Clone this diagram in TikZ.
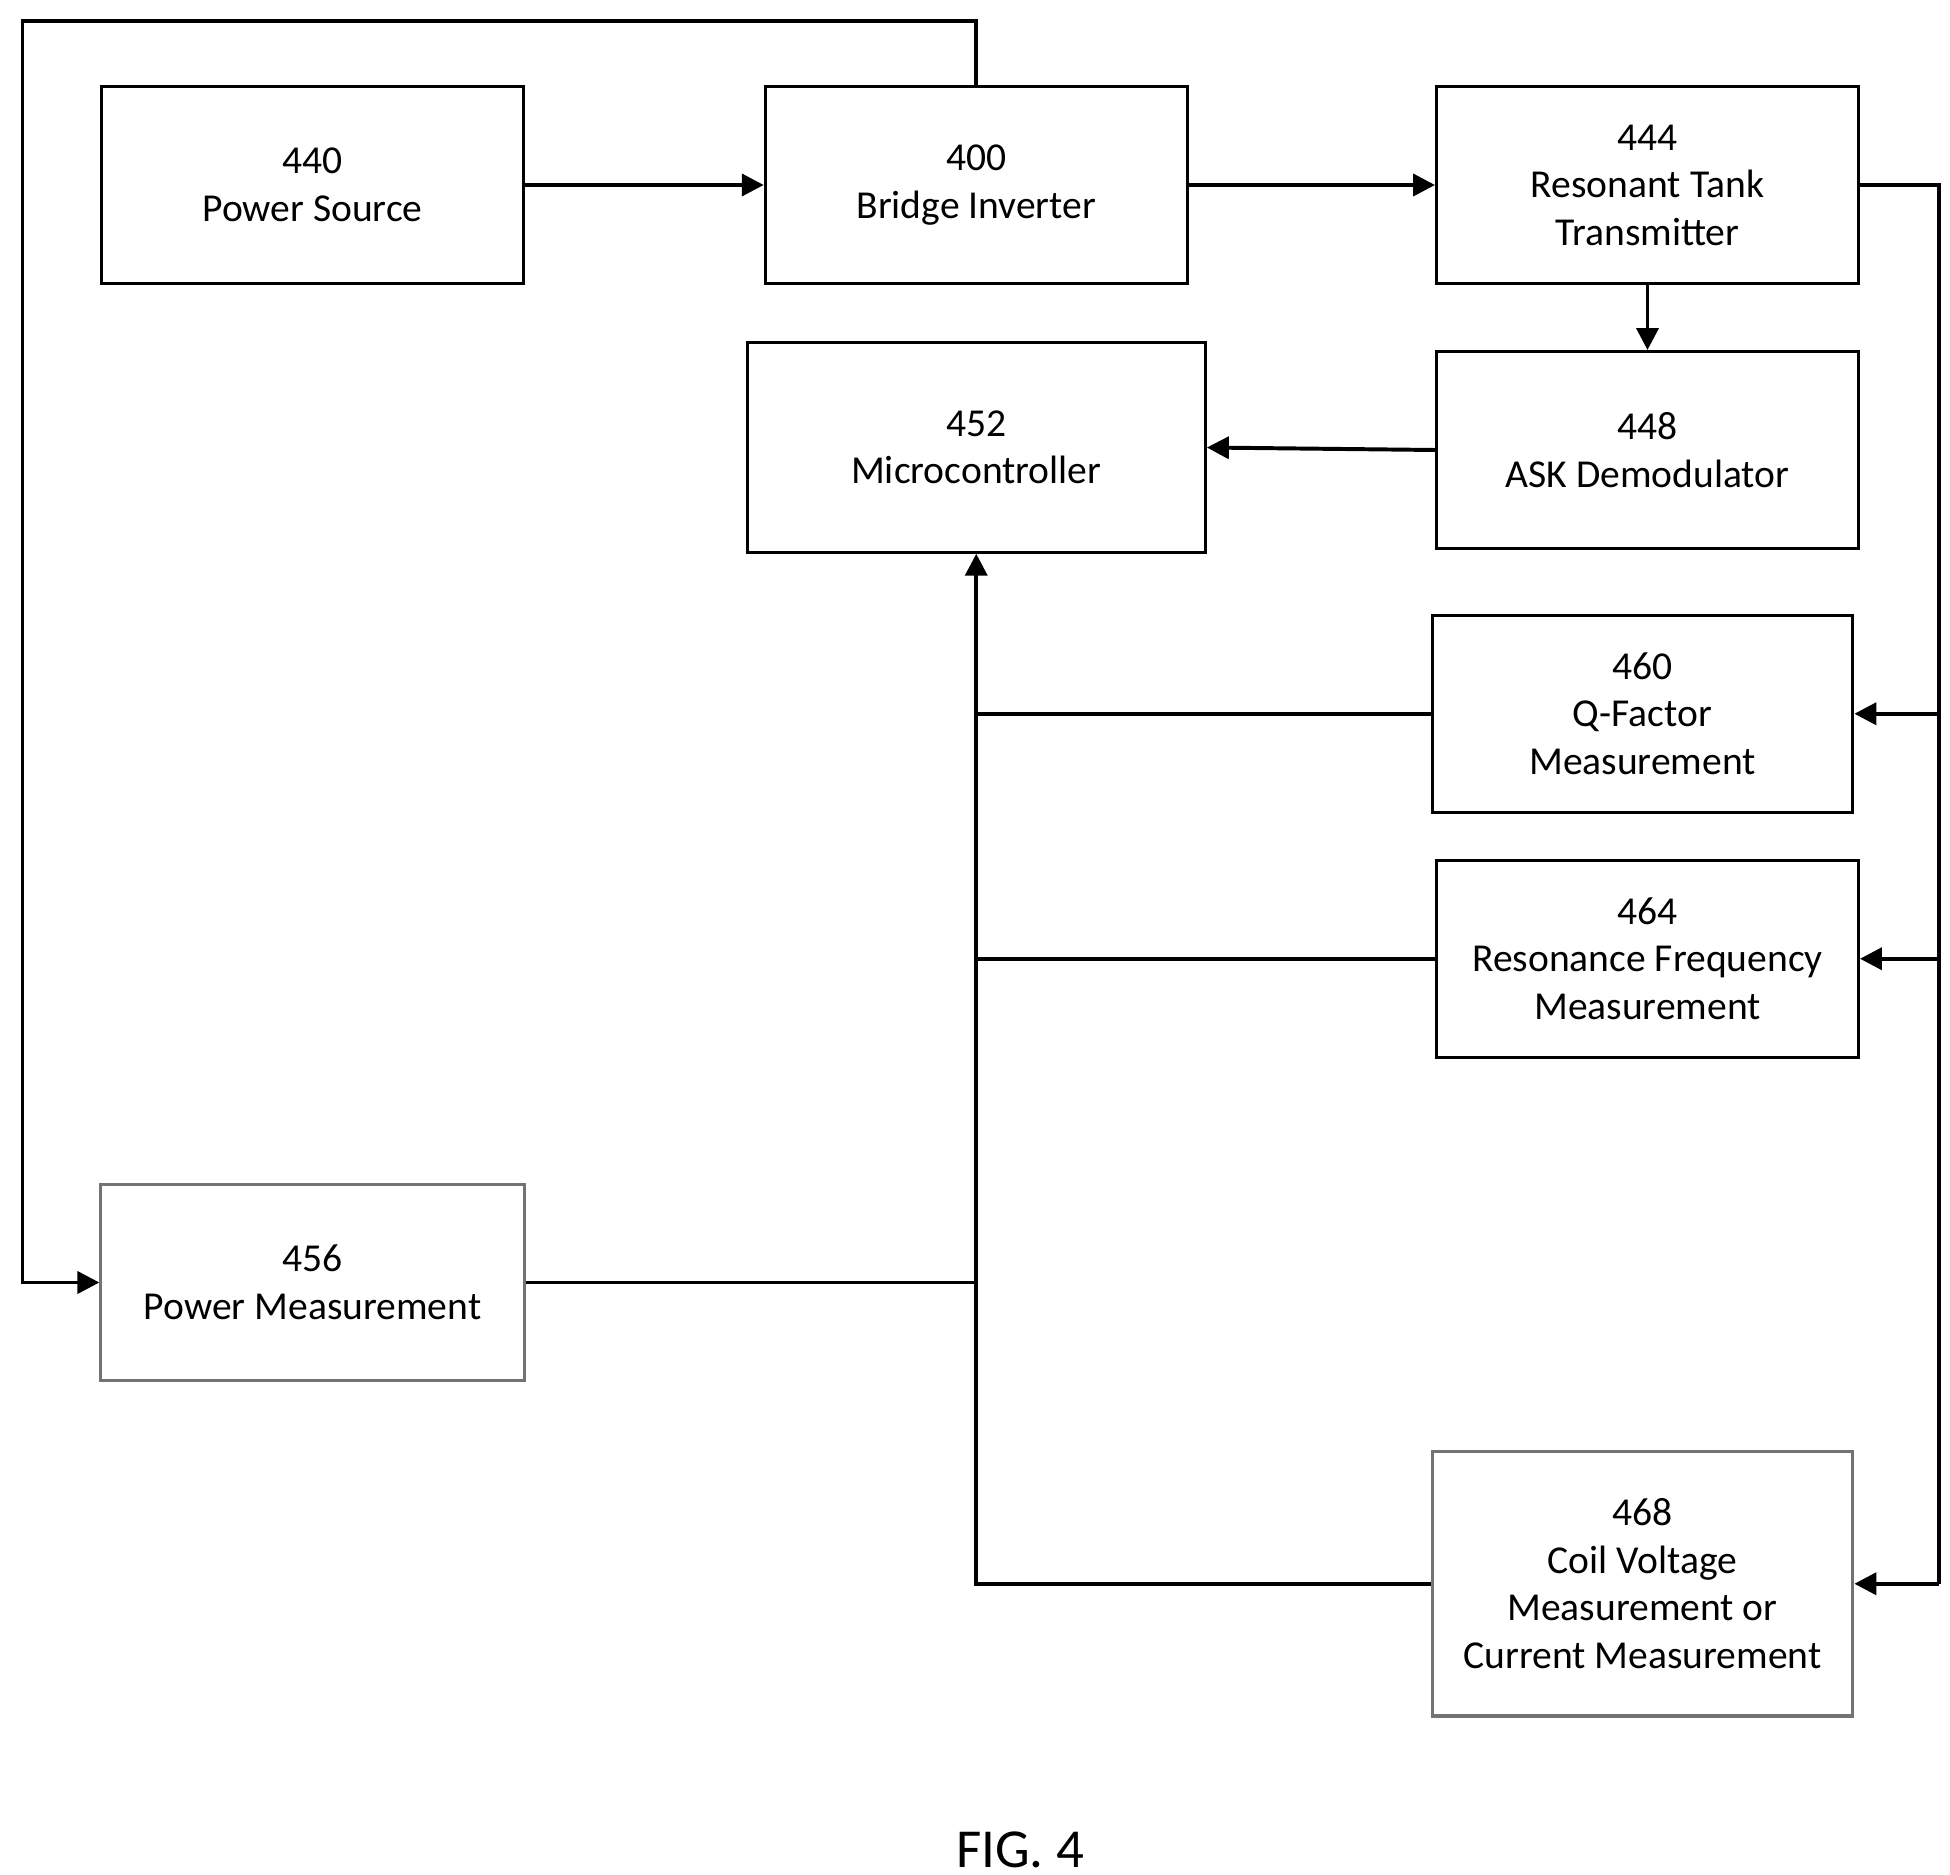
\documentclass[tikz,border=0pt]{standalone}
\usepackage{fontspec}
\setmainfont{Carlito}
\usetikzlibrary{arrows.meta}
\begin{document}
\begin{tikzpicture}[x=0.01cm,y=-0.01cm,
 box/.style={draw,line width=0.7pt,align=center,font=\fontsize{9}{10.8}\selectfont,inner sep=0pt},
 lbox/.style={box,draw=black!55},
 con/.style={line width=0.9pt},
 arr/.style={con,-{Triangle[length=5pt,width=5pt]}}]
\useasboundingbox (0,0) rectangle (1560,1500);
\newcommand\bx[6]{\node[#1,minimum width=#4*0.01cm-0.7pt,minimum height=#5*0.01cm-0.7pt] (#2) at (#3) {#6};}
\bx{box}{p440}{250,148}{340}{160}{440\\Power Source}
\bx{box}{p400}{781,148}{340}{160}{400\\Bridge Inverter}
\bx{box}{p444}{1318,148}{340}{160}{444\\Resonant Tank\\Transmitter}
\bx{box}{p448}{1318,360}{340}{160}{448\\ASK Demodulator}
\bx{box}{p452}{781,358}{369}{170}{452\\Microcontroller}
\bx{box}{p460}{1314,571}{339}{160}{460\\Q-Factor\\Measurement}
\bx{box}{p464}{1318,767}{340}{160}{464\\Resonance Frequency\\Measurement}
\bx{lbox}{p456}{250,1026}{341}{159}{456\\Power Measurement}
\bx{lbox}{p468}{1314,1267}{339}{214}{468\\Coil Voltage\\Measurement or\\Current Measurement}
\node[font=\fontsize{12.5}{14}\selectfont] (fig) at (816,1480) {FIG. 4};
\coordinate (t1) at (781,17); \coordinate (t2) at (18,17); \coordinate (t3) at (18,1026);
\coordinate (r1) at (1551,148); \coordinate (r2) at (1551,571); \coordinate (r3) at (1551,767); \coordinate (r4) at (1551,1267);
\coordinate (b1) at (781,571); \coordinate (b2) at (781,767); \coordinate (b3) at (781,1026); \coordinate (b4) at (781,1267);
\draw[arr] (p440) -- (p400);
\draw[arr] (p400) -- (p444);
\draw[arr] (p444) -- (p448);
\draw[arr] (p448.west) -- (p452.east);
\draw[arr] (p400.north) -- (t1) -- (t2) -- (t3) -- (p456.west);
\draw[con] (p444.east) -- (r1) -- (r4);
\draw[arr] (r2) -- (p460.east);
\draw[arr] (r3) -- (p464.east);
\draw[arr] (r4) -- (p468.east);
\draw[arr] (p468.west |- b4) -- (b4) -- (p452.south);
\draw[con] (p460.west) -- (b1);
\draw[con] (p464.west) -- (b2);
\draw[con] (p456.east) -- (b3);
\end{tikzpicture}
\end{document}
